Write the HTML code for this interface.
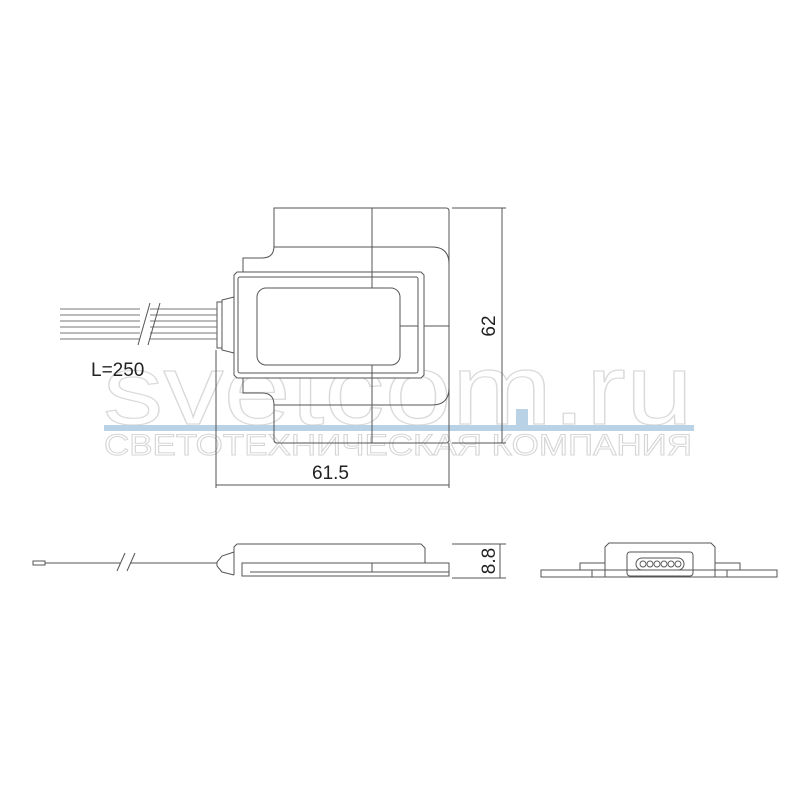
<!DOCTYPE html>
<html><head><meta charset="utf-8"><style>
html,body{margin:0;padding:0;background:#fff;width:800px;height:800px;overflow:hidden}
svg{display:block}
</style></head><body>
<svg width="800" height="800" viewBox="0 0 800 800" xmlns="http://www.w3.org/2000/svg">
<!-- watermark -->
<g font-family="Liberation Sans, sans-serif" fill="none" stroke="#dadada" stroke-width="1.2">
<text x="103" y="424" font-size="100" textLength="590" lengthAdjust="spacingAndGlyphs" fill="#fff">svetcom.ru</text>
</g>
<rect x="516" y="409" width="12" height="16" fill="#b9d2e6"/>
<rect x="104" y="425" width="590" height="6" fill="#b9d2e6"/>
<text x="104" y="455" font-family="Liberation Sans, 'DejaVu Sans', sans-serif" font-size="30" fill="#fff" stroke="#d6d6d6" stroke-width="1" textLength="588" lengthAdjust="spacingAndGlyphs">СВЕТОТЕХНИЧЕСКАЯ КОМПАНИЯ</text>

<g fill="none" stroke="#555" stroke-width="1">
<!-- top view plate -->
<path d="M274 208 H446 Q449 208 449 211 V440 Q449 443 446 443 H277 Q274 443 274 440 V405 Q274 393 262 393 H243 V258 H262 Q274 258 274 246 Z"/>
<path d="M274 247 H432 Q449 247 449 264"/>
<path d="M274 405 H432 Q449 405 449 388"/>
<line x1="372" y1="208" x2="372" y2="443"/>
<line x1="400" y1="326" x2="449" y2="326"/>
<!-- body -->
<path d="M237 272 H421 L424 275 V375 L421 378 H237 L234 375 V275 Z" fill="#fff"/>
<rect x="238" y="277" width="180" height="96" rx="2"/>
<rect x="257" y="288" width="143" height="77" rx="9"/>
<line x1="372" y1="272" x2="372" y2="288"/>
<line x1="372" y1="365" x2="372" y2="378"/>
<line x1="400" y1="326" x2="418" y2="326"/>
<!-- connector -->
<path d="M234 297 L222 300 V350 L234 353"/>
<rect x="217" y="302" width="5" height="46"/>
<!-- wires -->
<g stroke="#777">
<line x1="60" y1="309" x2="217" y2="309"/>
<line x1="60" y1="315" x2="217" y2="315"/>
<line x1="60" y1="321" x2="217" y2="321"/>
<line x1="60" y1="327" x2="217" y2="327"/>
<line x1="60" y1="333" x2="217" y2="333"/>
<line x1="60" y1="339" x2="217" y2="339"/>
</g>
<rect x="140" y="303" width="10" height="42" fill="#fff" stroke="none"/>
<line x1="138" y1="345" x2="150" y2="303"/>
<line x1="148" y1="345" x2="160" y2="303"/>
<!-- dims -->
<line x1="452" y1="208" x2="506" y2="208"/>
<line x1="452" y1="443" x2="506" y2="443"/>
<line x1="502" y1="208" x2="502" y2="443"/>
<line x1="216" y1="350" x2="216" y2="488"/>
<line x1="449" y1="443" x2="449" y2="488"/>
<line x1="216" y1="485" x2="449" y2="485"/>

<!-- side view -->
<line x1="45" y1="563" x2="217" y2="563"/>
<rect x="33" y="561" width="12" height="4"/>
<rect x="120" y="555" width="10" height="15" fill="#fff" stroke="none"/>
<line x1="117" y1="571" x2="125" y2="553"/>
<line x1="127" y1="571" x2="135" y2="553"/>
<path d="M234 552 L222 556 L217 562 L217 566 L222 572 L234 575"/>
<path d="M237 544 H421 L425 548 V563 M234 575 V547 L237 544"/>
<rect x="242" y="563" width="207" height="13"/>
<line x1="250" y1="572" x2="449" y2="572"/>
<line x1="372" y1="563" x2="372" y2="572"/>
<line x1="452" y1="544" x2="506" y2="544"/>
<line x1="452" y1="578" x2="506" y2="578"/>
<line x1="500" y1="544" x2="500" y2="578"/>

<!-- front view -->
<path d="M605 577 V547 L609 543 H711 L715 547 V577"/>
<rect x="541" y="570" width="236" height="7"/>
<rect x="580" y="563" width="25" height="7"/>
<rect x="715" y="563" width="25" height="7"/>
<line x1="592" y1="570" x2="592" y2="577"/>
<line x1="727" y1="570" x2="727" y2="577"/>
<rect x="627" y="552" width="66" height="24" rx="3"/>
<rect x="636" y="558" width="48" height="12" rx="6"/>
<g stroke-width="0.9">
<circle cx="643" cy="564" r="3"/><circle cx="650" cy="564" r="3"/><circle cx="657" cy="564" r="3"/>
<circle cx="664" cy="564" r="3"/><circle cx="671" cy="564" r="3"/><circle cx="678" cy="564" r="3"/>
</g>
</g>

<g font-family="Liberation Sans, sans-serif" fill="#222">
<text x="91" y="376" font-size="19">L=250</text>
<text x="312" y="479" font-size="19">61.5</text>
<text transform="translate(495,326) rotate(-90)" font-size="19" text-anchor="middle">62</text>
<text transform="translate(495,561) rotate(-90)" font-size="19" text-anchor="middle">8.8</text>
</g>
</svg>
</body></html>
